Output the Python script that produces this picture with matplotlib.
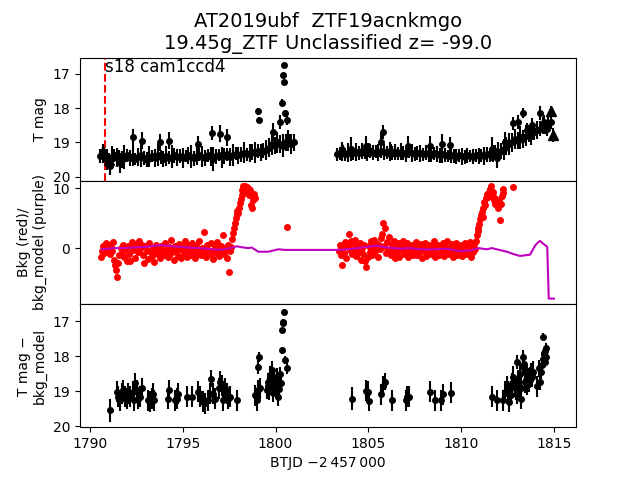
import matplotlib
matplotlib.use('Agg')
import matplotlib.pyplot as plt

# top panel: TESS light curve (dense band + brighter points)
band1_t = [1790.55, 1790.68, 1790.80, 1790.92, 1791.05, 1791.18, 1791.30, 1791.45, 1791.58, 1791.70,
           1791.85, 1792.00, 1792.15, 1792.30, 1792.45, 1792.60, 1792.75, 1792.90, 1793.05, 1793.20,
           1793.35, 1793.50, 1793.65, 1793.80, 1793.95, 1794.10, 1794.25, 1794.40, 1794.55, 1794.70,
           1794.85, 1795.00, 1795.15, 1795.30, 1795.45, 1795.60, 1795.75, 1795.90, 1796.05, 1796.20,
           1796.35, 1796.50, 1796.65, 1796.80, 1796.95, 1797.10, 1797.25, 1797.40, 1797.55, 1797.70,
           1797.85, 1798.00, 1798.15, 1798.30, 1798.45, 1798.60, 1798.75, 1798.90, 1799.05, 1799.20,
           1799.35, 1799.50, 1799.65, 1799.80, 1799.95, 1800.10, 1800.25, 1800.40, 1800.55, 1800.70,
           1800.85, 1800.98]
band1_m = [19.40, 19.35, 19.45, 19.50, 19.55, 19.42, 19.38, 19.45, 19.40, 19.50,
           19.42, 19.38, 19.45, 19.40, 19.48, 19.42, 19.38, 19.45, 19.50, 19.42,
           19.40, 19.45, 19.38, 19.42, 19.48, 19.40, 19.45, 19.42, 19.38, 19.44,
           19.40, 19.46, 19.40, 19.38, 19.42, 19.47, 19.40, 19.36, 19.42, 19.45,
           19.38, 19.42, 19.48, 19.40, 19.36, 19.44, 19.40, 19.35, 19.42, 19.38,
           19.33, 19.38, 19.35, 19.30, 19.35, 19.32, 19.28, 19.30, 19.25, 19.30,
           19.25, 19.22, 19.15, 19.05, 19.10, 19.00, 19.05, 19.10, 19.00, 18.95,
           19.05, 19.00]
band1_e = [0.20, 0.25, 0.18, 0.30, 0.22, 0.32, 0.20, 0.28, 0.18, 0.25,
           0.35, 0.20, 0.24, 0.30, 0.18, 0.26, 0.33, 0.20, 0.22, 0.30,
           0.18, 0.27, 0.32, 0.20, 0.24, 0.29, 0.19, 0.34, 0.22, 0.26,
           0.20, 0.30, 0.18, 0.25, 0.33, 0.21, 0.27, 0.19, 0.31, 0.23,
           0.20, 0.28, 0.35, 0.22, 0.18, 0.30, 0.24, 0.20, 0.27, 0.32,
           0.19, 0.25, 0.22, 0.30, 0.20, 0.26, 0.23, 0.31, 0.20, 0.25,
           0.22, 0.30, 0.28, 0.32, 0.25, 0.30, 0.27, 0.33, 0.25, 0.30,
           0.28, 0.25]
band2_t = [1803.30, 1803.45, 1803.60, 1803.75, 1803.90, 1804.05, 1804.20, 1804.35, 1804.50, 1804.65,
           1804.80, 1804.95, 1805.10, 1805.25, 1805.40, 1805.55, 1805.70, 1805.85, 1806.00, 1806.15,
           1806.30, 1806.45, 1806.60, 1806.75, 1806.90, 1807.05, 1807.20, 1807.35, 1807.50, 1807.65,
           1807.80, 1807.95, 1808.10, 1808.25, 1808.40, 1808.55, 1808.70, 1808.85, 1809.00, 1809.15,
           1809.30, 1809.45, 1809.60, 1809.75, 1809.90, 1810.05, 1810.20, 1810.35, 1810.50, 1810.65,
           1810.80, 1810.95, 1811.10, 1811.25, 1811.40, 1811.55, 1811.70, 1811.85, 1812.00, 1812.15,
           1812.30, 1812.45, 1812.60, 1812.75, 1812.90, 1813.05, 1813.20, 1813.35, 1813.50, 1813.65,
           1813.80, 1813.95, 1814.10, 1814.25, 1814.40, 1814.55, 1814.70, 1814.85]
band2_m = [19.35, 19.32, 19.30, 19.35, 19.30, 19.28, 19.32, 19.28, 19.30, 19.25,
           19.30, 19.28, 19.25, 19.30, 19.27, 19.30, 19.25, 19.28, 19.30, 19.26,
           19.30, 19.28, 19.32, 19.27, 19.30, 19.33, 19.28, 19.30, 19.34, 19.30,
           19.32, 19.35, 19.30, 19.33, 19.36, 19.32, 19.35, 19.38, 19.34, 19.36,
           19.40, 19.37, 19.40, 19.42, 19.38, 19.40, 19.42, 19.38, 19.40, 19.42,
           19.38, 19.40, 19.37, 19.40, 19.35, 19.38, 19.33, 19.30, 19.28, 19.25,
           19.20, 19.10, 19.05, 19.00, 18.90, 18.95, 18.85, 18.90, 18.80, 18.75,
           18.80, 18.70, 18.65, 18.60, 18.50, 18.55, 18.45, 18.40]
band2_e = [0.20, 0.18, 0.24, 0.20, 0.27, 0.22, 0.18, 0.25, 0.20, 0.23,
           0.19, 0.26, 0.20, 0.22, 0.18, 0.25, 0.21, 0.24, 0.19, 0.27,
           0.20, 0.22, 0.18, 0.25, 0.20, 0.23, 0.19, 0.26, 0.21, 0.20,
           0.24, 0.18, 0.22, 0.25, 0.20, 0.19, 0.23, 0.21, 0.26, 0.20,
           0.18, 0.24, 0.20, 0.22, 0.19, 0.25, 0.20, 0.23, 0.18, 0.22,
           0.20, 0.24, 0.19, 0.26, 0.21, 0.20, 0.25, 0.22, 0.28, 0.24,
           0.30, 0.26, 0.32, 0.28, 0.30, 0.25, 0.33, 0.27, 0.30, 0.25,
           0.28, 0.24, 0.26, 0.22, 0.25, 0.20, 0.22, 0.20]

spike_t = [1791.08, 1791.62, 1792.34, 1792.79, 1793.77, 1794.28, 1795.84, 1796.56, 1797.01, 1797.37,
           1799.07, 1799.09, 1799.88, 1800.24, 1800.37, 1800.44, 1800.40, 1800.46, 1800.51, 1800.60,
           1800.69, 1804.05, 1804.87, 1805.70, 1805.80, 1807.15, 1808.33, 1808.96, 1809.41, 1811.65,
           1811.92, 1812.37, 1812.82, 1813.09, 1813.32, 1813.54, 1813.81, 1814.26, 1814.45, 1814.62]
spike_m = [19.70, 19.60, 18.85, 18.95, 19.00, 18.95, 19.05, 18.72, 18.75, 18.85,
           18.10, 18.35, 18.70, 18.40, 17.85, 17.25, 17.05, 16.75, 18.15, 18.35,
           18.85, 19.20, 19.10, 19.00, 18.70, 19.10, 19.10, 19.05, 19.08, 19.20,
           19.45, 19.00, 18.45, 18.40, 18.15, 18.65, 18.50, 18.15, 18.40, 18.60]
spike_e = [0.25, 0.30, 0.25, 0.25, 0.25, 0.25, 0.25, 0.20, 0.25, 0.25,
           0.10, 0.10, 0.25, 0.20, 0.10, 0.07, 0.07, 0.05, 0.10, 0.15,
           0.20, 0.35, 0.30, 0.30, 0.20, 0.30, 0.30, 0.30, 0.25, 0.35,
           0.30, 0.30, 0.20, 0.20, 0.15, 0.20, 0.20, 0.20, 0.20, 0.20]

tri_t = [1790.70, 1791.00, 1803.57, 1805.05, 1806.20, 1814.83, 1814.98]
tri_m = [19.25, 19.50, 19.20, 19.22, 19.25, 18.10, 18.78]
tri_e = [0.2, 0.2, 0.2, 0.2, 0.2, 0.15, 0.2]

disc_t = 1790.81
sector_text = 's18 cam1ccd4'

# middle panel: background (red) and background model (purple)
bkg_t = [1790.60, 1790.66, 1790.72, 1790.78, 1790.85, 1790.92, 1791.00, 1791.06, 1791.12, 1791.18,
         1791.25, 1791.30, 1791.36, 1791.42, 1791.47, 1791.52, 1791.58, 1791.65, 1791.72, 1791.78,
         1791.85, 1791.92, 1791.98, 1792.05, 1792.12, 1792.18, 1792.25, 1792.32, 1792.38, 1792.45,
         1792.52, 1792.58, 1792.65, 1792.72, 1792.78, 1792.85, 1792.92, 1792.98, 1793.05, 1793.12,
         1793.18, 1793.25, 1793.32, 1793.38, 1793.45, 1793.52, 1793.58, 1793.65, 1793.72, 1793.78,
         1793.85, 1793.92, 1793.98, 1794.05, 1794.12, 1794.18, 1794.25, 1794.32, 1794.38, 1794.45,
         1794.52, 1794.58, 1794.65, 1794.72, 1794.78, 1794.85, 1794.92, 1794.98, 1795.05, 1795.12,
         1795.18, 1795.25, 1795.32, 1795.38, 1795.45, 1795.52, 1795.58, 1795.65, 1795.72, 1795.78,
         1795.85, 1795.92, 1795.98, 1796.05, 1796.12, 1796.18, 1796.25, 1796.32, 1796.38, 1796.45,
         1796.52, 1796.58, 1796.65, 1796.72, 1796.78, 1796.85, 1796.92, 1796.98, 1797.05, 1797.12,
         1797.18, 1797.25, 1797.32, 1797.38, 1797.45, 1797.50, 1797.55, 1797.62, 1797.68, 1797.73,
         1797.78, 1797.82, 1797.86, 1797.91, 1797.95, 1798.00, 1798.05, 1798.09, 1798.14, 1798.18,
         1798.22, 1798.27, 1798.32, 1798.36, 1798.41, 1798.45, 1798.50, 1798.55, 1798.59, 1798.63,
         1798.68, 1798.72, 1798.77, 1798.81, 1798.86, 1798.90, 1800.62,
         1803.40, 1803.46, 1803.52, 1803.58, 1803.64, 1803.70, 1803.76, 1803.82, 1803.88, 1803.94,
         1804.00, 1804.06, 1804.12, 1804.18, 1804.24, 1804.30, 1804.36, 1804.42, 1804.48, 1804.54,
         1804.60, 1804.66, 1804.72, 1804.78, 1804.84, 1804.90, 1804.96, 1805.02, 1805.08, 1805.14,
         1805.20, 1805.26, 1805.32, 1805.38, 1805.44, 1805.50, 1805.56, 1805.62, 1805.68, 1805.74,
         1805.78, 1805.84, 1805.90, 1805.96, 1806.02, 1806.08, 1806.14, 1806.20, 1806.26, 1806.32,
         1806.38, 1806.44, 1806.50, 1806.56, 1806.62, 1806.68, 1806.74, 1806.80, 1806.86, 1806.92,
         1806.98, 1807.04, 1807.10, 1807.16, 1807.22, 1807.28, 1807.34, 1807.40, 1807.46, 1807.52,
         1807.58, 1807.64, 1807.70, 1807.76, 1807.82, 1807.88, 1807.94, 1808.00, 1808.06, 1808.12,
         1808.18, 1808.24, 1808.30, 1808.36, 1808.42, 1808.48, 1808.54, 1808.60, 1808.66, 1808.72,
         1808.78, 1808.84, 1808.90, 1808.96, 1809.02, 1809.08, 1809.14, 1809.20, 1809.26, 1809.32,
         1809.38, 1809.44, 1809.50, 1809.56, 1809.62, 1809.68, 1809.74, 1809.80, 1809.86, 1809.92,
         1809.98, 1810.04, 1810.10, 1810.16, 1810.22, 1810.28, 1810.34, 1810.40, 1810.46, 1810.52,
         1810.58, 1810.64, 1810.70, 1810.76, 1810.82, 1810.86, 1810.90, 1810.94, 1810.98, 1811.03,
         1811.08, 1811.12, 1811.17, 1811.21, 1811.26, 1811.30, 1811.35, 1811.39, 1811.44, 1811.48,
         1811.53, 1811.57, 1811.62, 1811.66, 1811.71, 1811.75, 1811.80, 1811.84, 1811.89, 1811.93,
         1811.98, 1812.02, 1812.07, 1812.11, 1812.16, 1812.20, 1812.25, 1812.29, 1812.83]
bkg_v = [-1.5, -0.5, 0.3, -0.8, 0.8, -0.2, 0.5, -1.0, 0.2, -0.4,
         1.0, -2.0, -2.8, -3.6, -4.8, -2.5, -1.2, 0.1, -0.6, 0.6,
         -1.4, -0.1, -2.1, 0.4, -0.9, -2.2, 1.0, -0.3, 0.7, -1.6,
         0.2, -0.7, 1.1, -0.2, 0.5, -1.1, -2.5, 0.3, -0.5, -1.8,
         0.8, -0.4, -1.3, 0.1, -2.3, -0.8, 0.6, -1.0, -0.2, -1.7,
         0.4, -0.6, -1.2, 0.9, -0.3, -1.5, 0.2, -0.9, 1.3, -0.5,
         -1.9, 0.3, -0.7, -1.3, 0.7, -0.1, -1.6, 0.4, -0.8, 1.1,
         -0.3, -1.4, 0.5, -0.6, -1.1, 0.8, -0.2, -1.7, 0.3, -0.9,
         1.2, -0.4, -1.2, 0.1, 2.7, -0.7, -1.5, 0.6, -0.3, -1.0,
         0.9, -0.5, -1.8, 0.2, -0.8, 1.0, -0.2, -1.3, 0.4, -0.6,
         2.2, -1.0, -0.1, -1.6, 0.5, -3.9, -0.4, 0.2, 1.5, 2.5,
         3.4, 4.1, 5.0, 5.6, 6.2, 5.8, 6.7, 7.5, 8.2, 8.8,
         9.6, 10.3, 10.0, 10.4, 9.6, 10.2, 9.3, 9.8, 8.9, 9.7,
         7.2, 6.6, 8.5, 8.0, 9.0, 8.3, 3.5,
         -0.5, 0.6, -1.2, -2.8, 0.2, -0.8, 1.0, -1.6, 0.4, 2.3,
         -0.3, 1.2, -1.0, 0.7, -0.5, 1.4, -1.3, 0.3, -0.7, 0.9,
         -1.9, 0.1, -0.9, 0.6, -2.2, -3.1, -1.5, 0.4, -0.6, 1.1,
         -1.1, 0.2, 1.3, -0.4, 0.8, -1.4, 0.5, -0.2, 1.6, 2.4,
         4.1, 0.3, 3.3, -0.8, 1.0, -0.3, 1.8, -1.2, 0.6, -0.5,
         1.2, -1.7, 0.2, -0.7, 0.9, -1.4, 0.4, -0.3, 1.1, -1.0,
         0.3, -0.6, 0.8, -1.5, 0.1, -0.8, 0.6, -1.2, 0.4, -0.4,
         1.0, -1.1, 0.2, -0.7, 0.7, -1.6, 0.3, -0.5, 0.9, -1.3,
         0.1, -0.6, 0.5, -1.0, 0.2, -0.3, 1.1, -1.4, 0.4, -0.8,
         0.6, -1.1, 0.2, -0.4, 0.8, -1.3, 0.3, -0.6, 1.2, -1.0,
         0.1, -0.5, 0.7, -1.5, 0.4, -0.7, 0.9, -1.2, 0.2, -0.3,
         0.6, -1.3, 0.4, -0.6, 0.8, -1.0, 0.3, -0.5, 1.0, -1.4,
         0.2, -0.6, 0.7, -0.2, 1.2, 2.2, 2.8, 3.3, 4.0, 4.9,
         5.5, 6.0, 5.2, 6.6, 7.6, 7.2, 8.3, 9.0, 8.5, 8.8,
         9.4, 9.9, 10.3, 9.1, 8.6, 9.4, 8.0, 7.4, 8.2, 7.7,
         7.0, 6.6, 7.8, 4.7, 7.3, 8.6, 9.2, 9.9, 10.1]

model_t = [1790.63, 1791.26, 1791.80, 1792.34, 1793.05, 1793.77, 1794.49, 1795.21, 1795.93, 1796.65,
           1797.01, 1797.55, 1797.91, 1798.27, 1798.54, 1798.72, 1799.07, 1799.61, 1799.88, 1800.15,
           1800.51, 1801.05, 1803.48, 1804.20, 1804.92, 1805.46, 1806.00, 1806.71, 1807.25, 1807.79,
           1808.51, 1809.23, 1809.95, 1810.49, 1810.94, 1811.39, 1811.66, 1811.93, 1812.47, 1812.83,
           1813.18, 1813.45, 1813.72, 1813.99, 1814.17, 1814.26, 1814.40, 1814.53, 1814.65, 1814.73,
           1815.01]
model_v = [-0.2, 0.0, 0.0, 0.1, 0.2, 0.5, 0.3, 0.1, 0.0, -0.2,
           -0.3, 0.0, 0.3, 0.1, 0.0, 0.1, -0.6, -0.6, -0.4, -0.2,
           -0.3, -0.3, -0.3, -0.1, 0.2, 0.4, 0.1, -0.1, 0.0, -0.2,
           -0.2, -0.1, -0.5, -0.4, 0.0, -0.2, 0.0, -0.2, -0.6, -1.0,
           -1.3, -1.2, -1.1, 0.4, 1.0, 1.2, 0.8, 0.5, 0.2, -8.4,
           -8.4]

# bottom panel: T mag minus background model
sub_t = [1791.08, 1791.47, 1791.53, 1791.62, 1791.71, 1791.80, 1791.89, 1791.98, 1792.07, 1792.16,
         1792.34, 1792.39, 1792.43, 1792.52, 1792.61, 1792.70, 1792.79, 1793.14, 1793.23, 1793.32,
         1793.41, 1793.45, 1794.22, 1794.28, 1794.58, 1794.67, 1794.73, 1795.21, 1795.48, 1795.84,
         1795.93, 1796.07, 1796.20, 1796.38, 1796.47, 1796.52, 1796.61, 1796.74, 1796.97, 1797.01,
         1797.10, 1797.15, 1797.28, 1797.37, 1797.46, 1797.55, 1797.91, 1798.89, 1798.99, 1799.04,
         1799.07, 1799.11, 1799.16, 1799.53, 1799.58, 1799.61, 1799.65, 1799.70, 1799.75, 1799.80,
         1799.85, 1799.88, 1799.92, 1799.97, 1800.00, 1800.06, 1800.10, 1800.15, 1800.20, 1800.24,
         1800.30, 1800.33, 1800.37, 1800.40, 1800.42, 1800.46, 1800.51, 1800.60,
         1804.11, 1804.88, 1805.00, 1805.06, 1805.69, 1805.81, 1805.89, 1806.30, 1807.04, 1807.11,
         1807.22, 1808.33, 1808.60, 1808.90, 1809.01, 1809.44, 1811.69, 1811.96, 1812.28, 1812.37,
         1812.46, 1812.55, 1812.60, 1812.68, 1812.73, 1812.82, 1812.91, 1812.95, 1813.00, 1813.04,
         1813.09, 1813.12, 1813.18, 1813.22, 1813.25, 1813.32, 1813.36, 1813.41, 1813.45, 1813.50,
         1813.55, 1813.58, 1813.63, 1813.68, 1813.72, 1813.76, 1813.81, 1813.85, 1813.90, 1814.11,
         1814.20, 1814.26, 1814.31, 1814.35, 1814.40, 1814.44, 1814.48, 1814.50, 1814.53, 1814.55,
         1814.58, 1814.59]
sub_m = [19.54, 19.02, 19.16, 19.26, 19.07, 18.97, 19.16, 19.21, 19.07, 19.16,
         19.02, 19.26, 18.78, 18.97, 19.21, 19.16, 18.92, 19.26, 19.30, 19.21,
         19.07, 19.26, 19.21, 18.97, 19.26, 19.21, 19.07, 19.16, 19.16, 19.02,
         19.16, 19.30, 19.35, 19.26, 19.07, 18.64, 19.07, 19.21, 18.92, 18.73,
         18.83, 19.26, 18.92, 19.07, 19.21, 19.16, 19.26, 19.12, 19.26, 18.97,
         18.30, 18.02, 18.92, 18.97, 18.85, 18.73, 19.00, 18.54, 18.85, 18.40,
         19.05, 18.69, 18.60, 18.78, 18.90, 18.59, 18.70, 19.16, 18.95, 18.50,
         18.78, 17.26, 17.83, 17.05, 17.02, 16.73, 18.11, 18.35,
         19.21, 18.99, 19.02, 19.28, 19.09, 18.86, 18.73, 19.26, 19.26, 19.16,
         19.16, 19.02, 19.26, 19.26, 19.09, 19.05, 19.16, 19.26, 19.26, 19.02,
         18.88, 19.00, 19.30, 19.10, 18.78, 18.59, 18.88, 18.95, 18.16, 19.07,
         18.69, 18.85, 18.50, 18.90, 19.21, 18.02, 18.30, 18.21, 18.75, 18.69,
         18.80, 18.54, 18.65, 18.73, 18.60, 18.50, 18.59, 18.55, 18.45, 18.86,
         18.35, 18.73, 18.45, 18.26, 18.07, 17.45, 17.92, 17.95, 18.16, 17.85,
         17.78, 18.02]
sub_e = [0.33, 0.30, 0.30, 0.30, 0.30, 0.30, 0.30, 0.30, 0.30, 0.30,
         0.30, 0.32, 0.30, 0.30, 0.30, 0.30, 0.30, 0.30, 0.30, 0.30,
         0.30, 0.30, 0.30, 0.30, 0.30, 0.30, 0.30, 0.30, 0.30, 0.30,
         0.30, 0.30, 0.30, 0.30, 0.30, 0.25, 0.30, 0.30, 0.30, 0.30,
         0.30, 0.30, 0.30, 0.30, 0.30, 0.30, 0.30, 0.30, 0.30, 0.30,
         0.20, 0.15, 0.30, 0.25, 0.25, 0.25, 0.25, 0.25, 0.25, 0.25,
         0.25, 0.25, 0.25, 0.25, 0.25, 0.25, 0.25, 0.25, 0.25, 0.20,
         0.20, 0.07, 0.10, 0.07, 0.07, 0.07, 0.10, 0.15,
         0.33, 0.30, 0.30, 0.30, 0.30, 0.30, 0.25, 0.30, 0.30, 0.30,
         0.30, 0.30, 0.30, 0.30, 0.30, 0.30, 0.30, 0.30, 0.30, 0.30,
         0.30, 0.30, 0.30, 0.30, 0.30, 0.30, 0.30, 0.30, 0.20, 0.30,
         0.30, 0.30, 0.30, 0.30, 0.30, 0.20, 0.25, 0.25, 0.30, 0.30,
         0.30, 0.30, 0.30, 0.30, 0.30, 0.30, 0.30, 0.30, 0.30, 0.30,
         0.25, 0.25, 0.20, 0.20, 0.20, 0.10, 0.15, 0.15, 0.15, 0.15,
         0.15, 0.15]

fig, axes = plt.subplots(3, 1, sharex=True, figsize=(6.4, 4.8), dpi=100)
plt.subplots_adjust(hspace=0)
ax1, ax2, ax3 = axes

# top
ax1.errorbar(band1_t, band1_m, yerr=band1_e, fmt='ko', ms=4)
ax1.errorbar(band2_t, band2_m, yerr=band2_e, fmt='ko', ms=4)
ax1.errorbar(spike_t, spike_m, yerr=spike_e, fmt='ko', ms=4)
ax1.errorbar(tri_t, tri_m, yerr=tri_e, fmt='k^', ms=7)
ax1.axvline(disc_t, color='r', ls='--')
ax1.text(disc_t, 16.55, sector_text, fontsize=12, va='top', ha='left')
ax1.set_ylim(20.12, 16.53)
ax1.set_yticks([17, 18, 19, 20])
ax1.set_ylabel('T mag')
ax1.set_title('AT2019ubf  ZTF19acnkmgo\n19.45g_ZTF Unclassified z= -99.0', fontsize=14)

# middle
ax2.plot(bkg_t, bkg_v, 'ro', ms=4)
ax2.plot(model_t, model_v, 'm-', lw=1.5)
ax2.set_ylim(-9.3, 11.2)
ax2.set_yticks([0, 10])
ax2.set_ylabel('Bkg (red)/\nbkg_model (purple)')

# bottom
ax3.errorbar(sub_t, sub_m, yerr=sub_e, fmt='ko', ms=4)
ax3.set_ylim(20.03, 16.51)
ax3.set_yticks([17, 18, 19, 20])
ax3.set_ylabel('T mag \u2212\nbkg_model')
ax3.set_xlim(1789.46, 1816.2)
ax3.set_xlabel('BTJD \u22122\u2009457\u2009000')

fig.savefig('out.png')
